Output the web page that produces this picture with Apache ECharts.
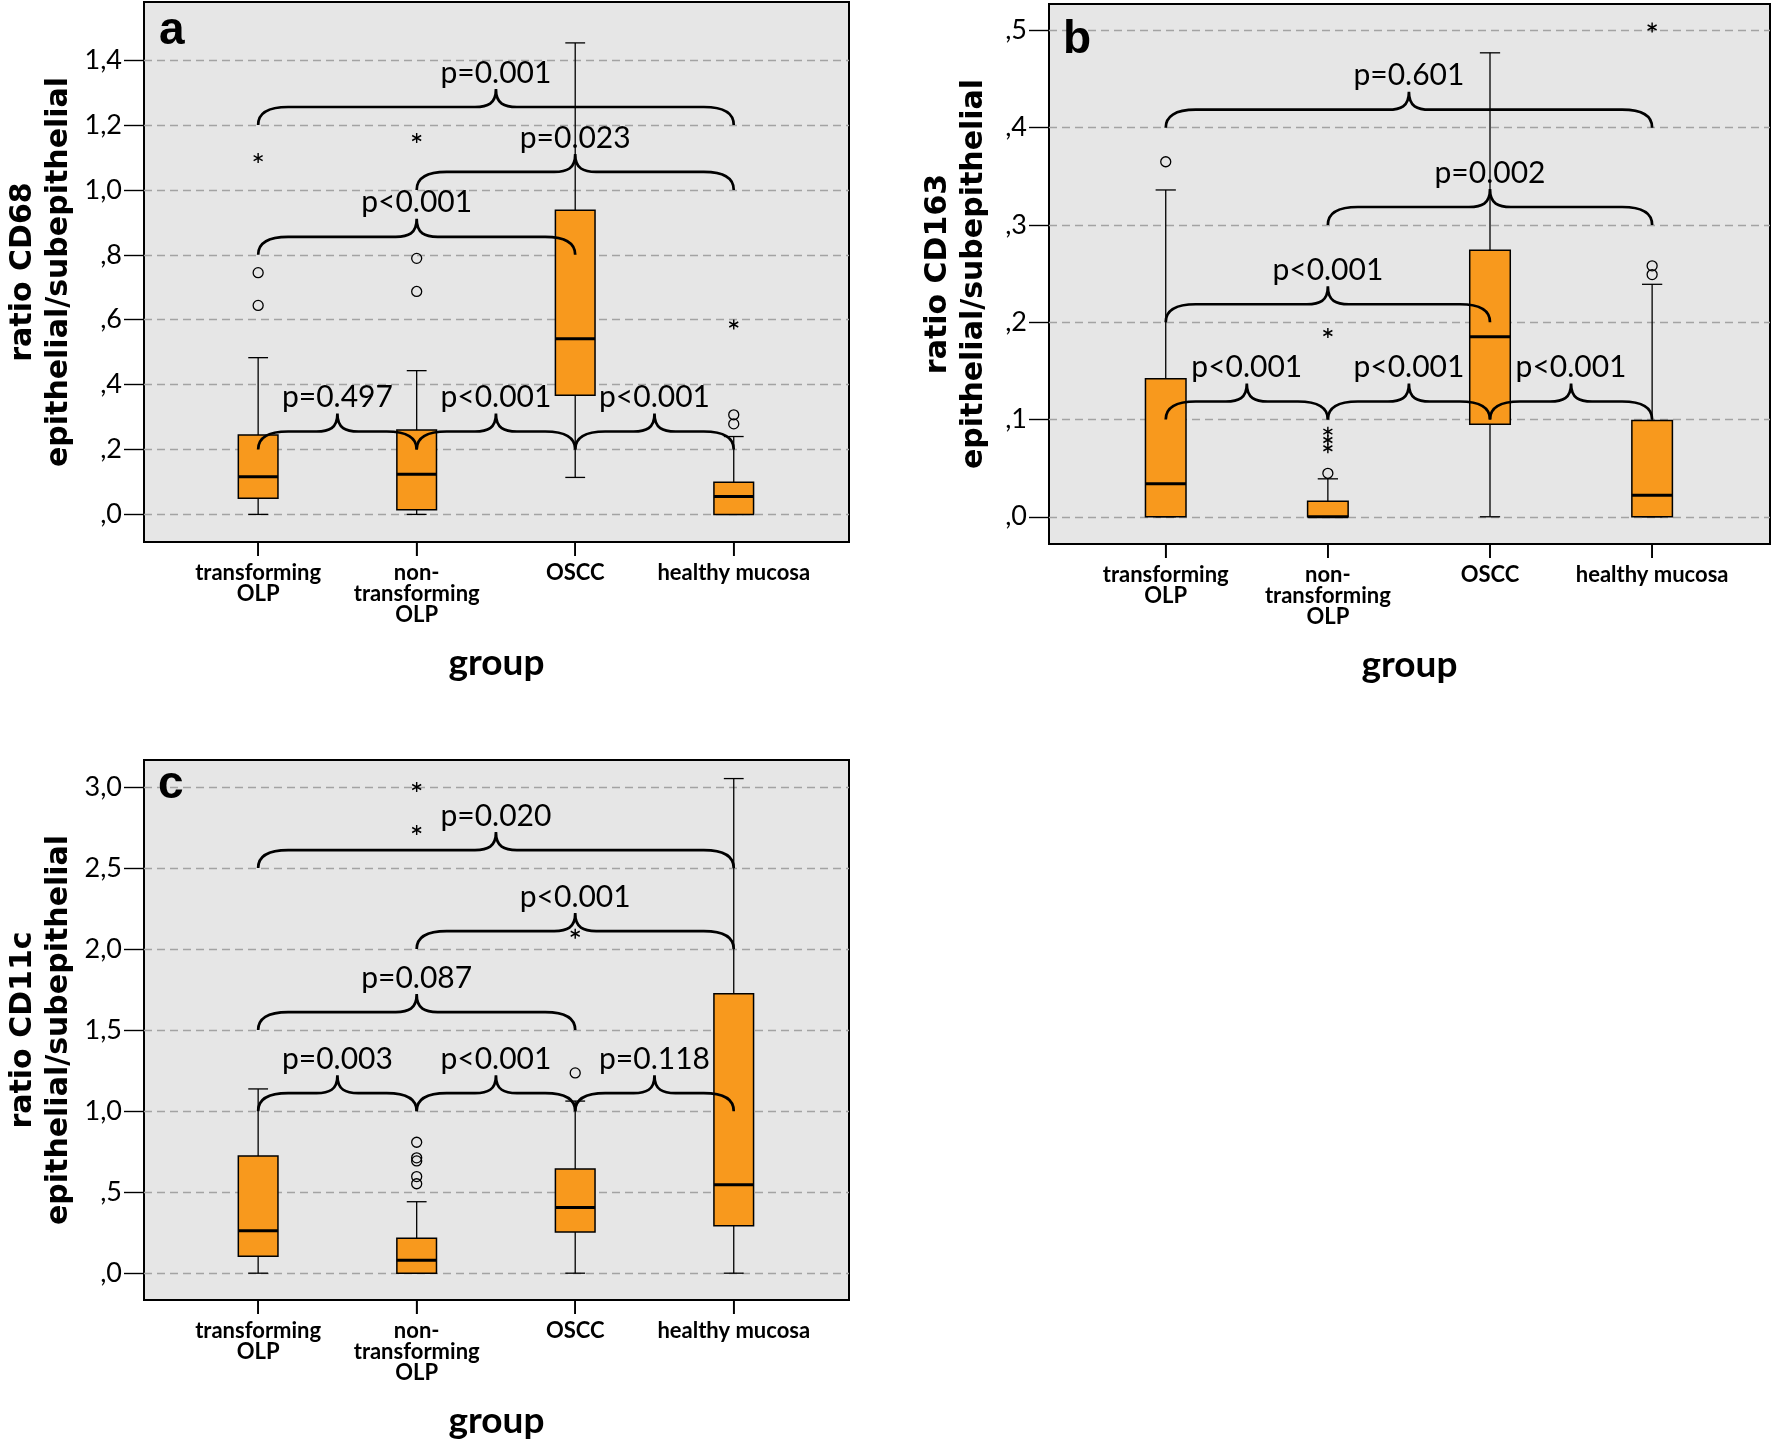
<!DOCTYPE html>
<html><head><meta charset="utf-8">
<script src="https://cdn.jsdelivr.net/npm/echarts@6/dist/echarts.min.js"></script>
<style>html,body{margin:0;padding:0;background:#fff}#chart{width:1773px;height:1441px}</style>
</head><body><div id="chart"></div>
<script>
// ---------- data ----------
const categories = ['transforming\nOLP', 'non-\ntransforming\nOLP', 'OSCC', 'healthy mucosa'];

// box stats per category: [min, q1, median, q3, max]
const boxA = [[0, 0.050, 0.116, 0.245, 0.483], [0, 0.014, 0.124, 0.260, 0.443], [0.114, 0.367, 0.541, 0.937, 1.453], [0, 0, 0.055, 0.099, 0.240]];
const outliersA = [[0, 0.745], [0, 0.644], [1, 0.789], [1, 0.687], [3, 0.307], [3, 0.279]];
const extremesA = [[0, 1.098], [1, 1.160], [3, 0.585]];
const bracesA = [[0, 3, 1.2], [1, 3, 1.0], [0, 2, 0.8], [0, 1, 0.2], [1, 2, 0.2], [2, 3, 0.2]];
const pLabelsA = ['p=0.001', 'p=0.023', 'p<0.001', 'p=0.497', 'p<0.001', 'p<0.001'];
const ticksA = [0, 0.2, 0.4, 0.6, 0.8, 1.0, 1.2, 1.4];

const boxB = [[0, 0, 0.034, 0.142, 0.336], [0, 0, 0, 0.016, 0.039], [0, 0.095, 0.185, 0.274, 0.477], [0, 0, 0.022, 0.099, 0.239]];
const outliersB = [[0, 0.365], [1, 0.0447], [3, 0.258], [3, 0.249]];
const extremesB = [[1, 0.189], [1, 0.0875], [1, 0.079], [1, 0.0705], [3, 0.503]];
const bracesB = [[0, 3, 0.4], [1, 3, 0.3], [0, 2, 0.2], [0, 1, 0.1], [1, 2, 0.1], [2, 3, 0.1]];
const pLabelsB = ['p=0.601', 'p=0.002', 'p<0.001', 'p<0.001', 'p<0.001', 'p<0.001'];
const ticksB = [0, 0.1, 0.2, 0.3, 0.4, 0.5];

const boxC = [[0, 0.105, 0.262, 0.723, 1.137], [0, 0, 0.080, 0.215, 0.441], [0, 0.254, 0.406, 0.643, 1.062], [0, 0.292, 0.546, 1.725, 3.052]];
const outliersC = [[1, 0.808], [1, 0.712], [1, 0.693], [1, 0.596], [1, 0.552], [2, 1.236]];
const extremesC = [[1, 3.0], [1, 2.735], [2, 2.094]];
const bracesC = [[0, 3, 2.5], [1, 3, 2.0], [0, 2, 1.5], [0, 1, 1.0], [1, 2, 1.0], [2, 3, 1.0]];
const pLabelsC = ['p=0.020', 'p<0.001', 'p=0.087', 'p=0.003', 'p<0.001', 'p=0.118'];
const ticksC = [0, 0.5, 1.0, 1.5, 2.0, 2.5, 3.0];

const catTicks = [0, 1, 2, 3];

// ---------- layout / style ----------
const ORANGE = '#F8991D';
const BG = '#E6E6E6';
const panels = [
  { letter: 'a', box: boxA, out: outliersA, ext: extremesA, br: bracesA, pl: pLabelsA, ticks: ticksA,
    title: 'ratio CD68\nepithelial/subepithelial', left: 144, top: 2, width: 705, height: 540,
    ymin: -0.085, ymax: 1.579, nameGap: 67, lx: 159, ly: 31 },
  { letter: 'b', box: boxB, out: outliersB, ext: extremesB, br: bracesB, pl: pLabelsB, ticks: ticksB,
    title: 'ratio CD163\nepithelial/subepithelial', left: 1049, top: 4, width: 721, height: 540,
    ymin: -0.028, ymax: 0.5272, nameGap: 57, lx: 1063, ly: 40 },
  { letter: 'c', box: boxC, out: outliersC, ext: extremesC, br: bracesC, pl: pLabelsC, ticks: ticksC,
    title: 'ratio CD11c\nepithelial/subepithelial', left: 144, top: 760, width: 705, height: 540,
    ymin: -0.1654, ymax: 3.1666, nameGap: 67, lx: 158, ly: 785 }
];

function fmtTick(v) {
  let s = (Math.round(v * 10) / 10).toFixed(1).replace('.', ',');
  if (s.charAt(0) === '0') s = s.slice(1);
  return s;
}

function renderBox(params, api) {
  const c = api.value(0);
  const v = [1, 2, 3, 4, 5].map(i => api.value(i));
  const x = api.coord([c, 0])[0];
  const w = api.size([0.25, 0])[0];
  const y = v.map(val => api.coord([c, val])[1]);
  const ls = { stroke: '#000', lineWidth: 1.3 };
  return {
    type: 'group',
    children: [
      { type: 'line', shape: { x1: x, y1: y[0], x2: x, y2: y[1] }, style: ls },
      { type: 'line', shape: { x1: x, y1: y[3], x2: x, y2: y[4] }, style: ls },
      { type: 'line', shape: { x1: x - w / 4, y1: y[0], x2: x + w / 4, y2: y[0] }, style: ls },
      { type: 'line', shape: { x1: x - w / 4, y1: y[4], x2: x + w / 4, y2: y[4] }, style: ls },
      { type: 'rect', shape: { x: x - w / 2, y: y[3], width: w, height: y[1] - y[3] },
        style: { fill: ORANGE, stroke: '#000', lineWidth: 1.5 } },
      { type: 'line', shape: { x1: x - w / 2, y1: y[2], x2: x + w / 2, y2: y[2] },
        style: { stroke: '#000', lineWidth: 3 } }
    ]
  };
}

function makeBraceRenderer(labels) {
  return function (params, api) {
    const p1 = api.coord([api.value(0), api.value(2)]);
    const p2 = api.coord([api.value(1), api.value(2)]);
    const x1 = p1[0], x2 = p2[0], yE = p1[1];
    const xm = (x1 + x2) / 2;
    const yB = yE - 18, yT = yE - 36;
    const rE = 30, rC = 21;
    const d = [
      'M', x1, yE,
      'C', x1, yE - 11, x1 + 9, yB, x1 + rE, yB,
      'L', xm - rC, yB,
      'C', xm - rC * 0.4, yB, xm, yB - 3, xm, yT,
      'C', xm, yB - 3, xm + rC * 0.4, yB, xm + rC, yB,
      'L', x2 - rE, yB,
      'C', x2 - 9, yB, x2, yE - 11, x2, yE
    ].join(' ');
    return {
      type: 'group',
      children: [
        { type: 'path', shape: { pathData: d }, style: { fill: 'none', stroke: '#000', lineWidth: 2.7 } },
        { type: 'text', x: xm, y: yT - 1,
          style: { text: labels[params.dataIndex], fontFamily: 'Lato', fontSize: 30,
                   align: 'center', verticalAlign: 'bottom', fill: '#000' } }
      ]
    };
  };
}

const grid = [], xAxis = [], yAxis = [], series = [], graphic = [];
panels.forEach((P, i) => {
  grid.push({ left: P.left, top: P.top, width: P.width, height: P.height, show: true,
              backgroundColor: BG, borderColor: '#000', borderWidth: 2,
              containLabel: false, outerBoundsMode: 'none' });
  xAxis.push({
    type: 'value', gridIndex: i, min: -0.72, max: 3.727, position: 'bottom',
    name: 'group', nameLocation: 'middle', nameGap: 103, nameMoveOverlap: false,
    nameTextStyle: { fontFamily: 'Lato', fontWeight: 'bold', fontSize: 37, color: '#000' },
    axisLine: { show: true, onZero: false, lineStyle: { color: '#000', width: 2 } },
    axisTick: { show: true, customValues: catTicks, length: 14, lineStyle: { color: '#000', width: 1.6 } },
    axisLabel: { customValues: catTicks, margin: 20, fontFamily: 'Lato', fontWeight: 'bold', fontSize: 22,
                 lineHeight: 21, color: '#000', formatter: v => categories[Math.round(v)] },
    splitLine: { show: false }
  });
  yAxis.push({
    type: 'value', gridIndex: i, min: P.ymin, max: P.ymax, position: 'left',
    name: P.title, nameLocation: 'middle', nameRotate: 90, nameGap: P.nameGap, nameMoveOverlap: false,
    nameTextStyle: { fontFamily: 'DejaVu Sans', fontWeight: 'bold', fontSize: 30, lineHeight: 36, color: '#000' },
    axisLine: { show: false, onZero: false },
    axisTick: { show: true, customValues: P.ticks, length: 20, lineStyle: { color: '#000', width: 1.4 } },
    axisLabel: { customValues: P.ticks, margin: 22, fontFamily: 'Lato', fontSize: 27, color: '#000',
                 formatter: fmtTick },
    splitLine: { show: true, lineStyle: { color: '#A3A3A3', width: 1.3, type: [8, 5] } }
  });
  series.push({
    type: 'custom', xAxisIndex: i, yAxisIndex: i, z: 2, silent: true, clip: false,
    renderItem: renderBox, data: P.box.map((b, k) => [k].concat(b))
  });
  series.push({
    type: 'scatter', xAxisIndex: i, yAxisIndex: i, z: 3, silent: true,
    symbol: 'circle', symbolSize: 10,
    itemStyle: { color: 'rgba(0,0,0,0)', borderColor: '#000', borderWidth: 1.3, opacity: 1 },
    data: P.out
  });
  series.push({
    type: 'scatter', xAxisIndex: i, yAxisIndex: i, z: 3, silent: true,
    symbol: 'path://M10,0L10,20M1.34,5L18.66,15M1.34,15L18.66,5', symbolSize: [9, 10],
    itemStyle: { color: 'rgba(0,0,0,0)', borderColor: '#000', borderWidth: 1.5, opacity: 1 },
    data: P.ext
  });
  series.push({
    type: 'custom', xAxisIndex: i, yAxisIndex: i, z: 4, silent: true, clip: false,
    renderItem: makeBraceRenderer(P.pl), data: P.br
  });
  graphic.push({
    type: 'text', x: P.lx, y: P.ly, z: 10,
    style: { text: P.letter, fontFamily: 'Liberation Sans', fontWeight: 'bold', fontSize: 46,
             fill: '#000', verticalAlign: 'middle', align: 'left' }
  });
});

const chart = echarts.init(document.getElementById('chart'), null, { renderer: 'canvas' });
chart.setOption({
  backgroundColor: '#fff',
  animation: false,
  grid, xAxis, yAxis, series, graphic
});

// category tick marks below each frame, placed through the x scale of each grid
const tickMarks = [];
panels.forEach((P, i) => {
  catTicks.forEach(c => {
    const pt = chart.convertToPixel({ gridIndex: i }, [c, P.ymin]);
    if (pt) {
      tickMarks.push({ type: 'line', z: 20, silent: true,
        shape: { x1: pt[0], y1: pt[1], x2: pt[0], y2: pt[1] + 14 },
        style: { stroke: '#000', lineWidth: 1.6 } });
    }
  });
});
chart.setOption({ graphic: graphic.concat(tickMarks) });
</script></body></html>
